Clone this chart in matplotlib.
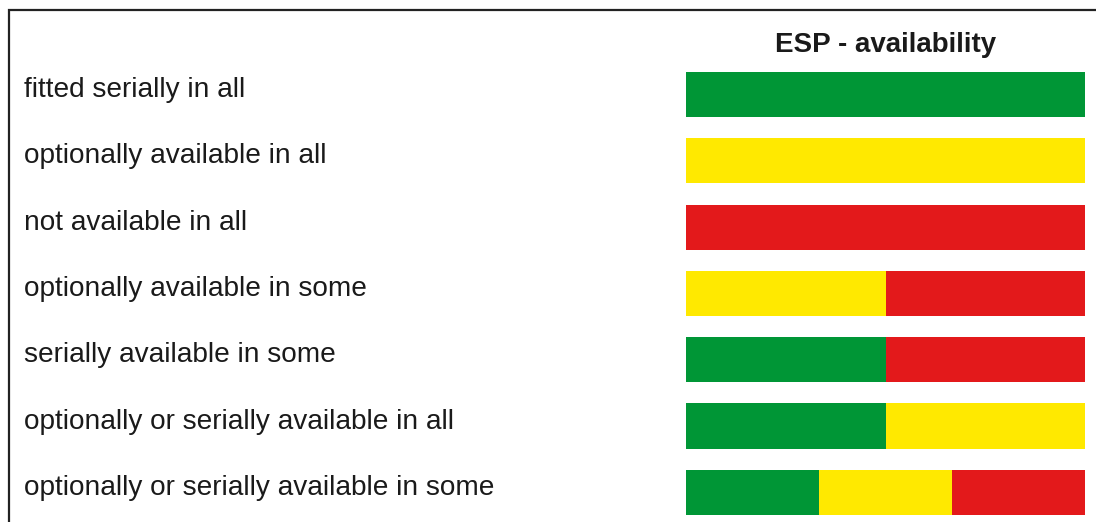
import matplotlib

matplotlib.use("Agg")
import matplotlib.pyplot as plt
import matplotlib.transforms as mtransforms
from matplotlib.patches import Rectangle

labels = [
    "fitted serially in all",
    "optionally available in all",
    "not available in all",
    "optionally available in some",
    "serially available in some",
    "optionally or serially available in all",
    "optionally or serially available in some",
]
# share of each status per row
serial = [1.0, 0.0, 0.0, 0.0, 0.5, 0.5, 1 / 3]
optional = [0.0, 1.0, 0.0, 0.5, 0.0, 0.5, 1 / 3]
unavailable = [0.0, 0.0, 1.0, 0.5, 0.5, 0.0, 1 / 3]
title = "ESP - availability"

GREEN = "#009636"
YELLOW = "#ffe900"
RED = "#e3191b"

plt.rcParams["font.family"] = ["Liberation Sans", "DejaVu Sans"]

W, H = 1096, 522
fig = plt.figure(figsize=(W / 100, H / 100), dpi=100)
ax = fig.add_axes([686 / W, 0, 399 / W, 1])

rows = list(range(len(labels)))
left = [0.0] * len(rows)
for vals, color in [(serial, GREEN), (optional, YELLOW), (unavailable, RED)]:
    ax.barh(rows, vals, left=left, height=0.68, color=color, linewidth=0)
    left = [a + b for a, b in zip(left, vals)]

ax.set_xlim(0, 1)
ax.set_ylim(6.448, -1.425)
ax.axis("off")

# labels sit in the left part of the frame, one per bar row
trans = mtransforms.blended_transform_factory(fig.transFigure, ax.transData)
for i, lab in enumerate(labels):
    ax.text(24 / W, i + 0.038, lab, transform=trans, ha="left", va="baseline",
            fontsize=20.2, color="#1a1a1a")

ax.text(0.5, -0.641, title, ha="center", va="baseline", fontsize=20,
        fontweight="bold", color="#1a1a1a")

fig.add_artist(Rectangle((8.5 / W, -0.1), 1.2, 1.1 - 9.5 / H, transform=fig.transFigure,
                         fill=False, edgecolor="#222222", linewidth=1.6))

fig.savefig("out.png", dpi=100)
plt.close(fig)
